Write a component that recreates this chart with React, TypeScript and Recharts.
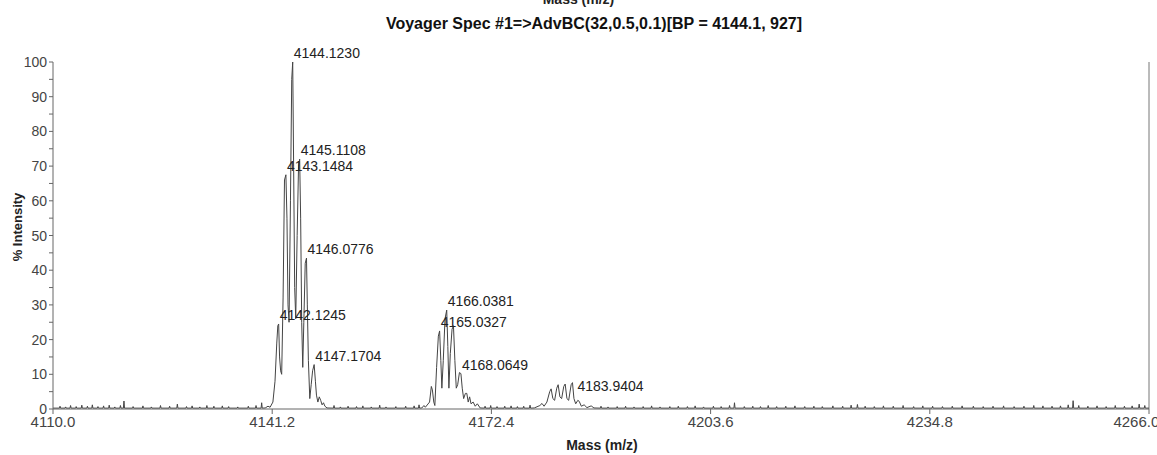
import { LineChart, Line, XAxis, YAxis, ReferenceDot, ReferenceLine } from 'recharts';

// axis ticks
const massTicks = [4110.0, 4141.2, 4172.4, 4203.6, 4234.8, 4266.0];
const intensityTicks = [0, 5, 10, 15, 20, 25, 30, 35, 40, 45, 50, 55, 60, 65, 70, 75, 80, 85, 90, 95, 100];

// isotope cluster around 4144 (mass, % intensity)
const clusterA: [number, number][] = [
  [4140.2, 0.3], [4140.6, 0.8], [4140.9, 0.5], [4141.3, 2], [4141.6, 8], [4141.85, 19],
  [4142.0, 24], [4142.12, 24.5], [4142.25, 15], [4142.4, 11], [4142.55, 10], [4142.75, 32],
  [4142.95, 66], [4143.15, 67.5], [4143.3, 55], [4143.45, 30], [4143.6, 25], [4143.8, 60],
  [4143.98, 95], [4144.12, 100], [4144.25, 70], [4144.4, 35], [4144.55, 26], [4144.75, 50],
  [4144.95, 70], [4145.11, 72], [4145.25, 55], [4145.4, 25], [4145.55, 12], [4145.7, 25],
  [4145.9, 42], [4146.08, 43.5], [4146.2, 30], [4146.35, 14], [4146.55, 3], [4146.75, 7],
  [4146.95, 11], [4147.17, 12.8], [4147.35, 8], [4147.5, 4], [4147.7, 2], [4147.9, 3.5],
  [4148.1, 2.5], [4148.3, 1.2], [4148.5, 1.8], [4148.7, 0.8], [4149.0, 0.3],
];

// cluster around 4166
const clusterB: [number, number][] = [
  [4162.5, 0.3], [4162.8, 1], [4163.0, 0.5], [4163.6, 2], [4163.85, 6.5], [4164.0, 5.5],
  [4164.2, 2], [4164.35, 1], [4164.6, 12], [4164.85, 21], [4165.03, 22.5], [4165.2, 14],
  [4165.35, 6], [4165.55, 14], [4165.8, 26], [4166.04, 28.5], [4166.2, 18], [4166.35, 6],
  [4166.55, 16], [4166.8, 23], [4167.0, 24], [4167.2, 14], [4167.4, 6], [4167.6, 7],
  [4167.85, 10.5], [4168.06, 10.2], [4168.25, 6], [4168.45, 3], [4168.7, 4.5], [4168.9, 4.5],
  [4169.1, 2], [4169.3, 3.5], [4169.5, 1.5], [4169.8, 2], [4170.1, 0.8], [4170.4, 1.5],
  [4170.8, 0.3],
];

// cluster around 4183
const clusterC: [number, number][] = [
  [4178.5, 0.3], [4179.3, 1], [4179.6, 1.6], [4179.9, 0.8], [4180.3, 2], [4180.7, 5],
  [4180.9, 5.8], [4181.15, 3], [4181.4, 2.5], [4181.7, 6], [4181.9, 7], [4182.15, 3.5],
  [4182.4, 3], [4182.7, 6.5], [4182.9, 7.2], [4183.15, 3], [4183.4, 2.5], [4183.75, 7],
  [4183.94, 7.6], [4184.15, 3], [4184.4, 1.5], [4184.7, 2.5], [4184.9, 2.2], [4185.2, 0.8],
  [4185.6, 1.2], [4186.0, 0.4], [4186.6, 0.9], [4187.0, 0.3],
];

// baseline noise spikes
const noiseMass = [
  4111.0, 4111.8, 4112.5, 4113.3, 4114.1, 4114.9, 4115.6, 4116.4, 4117.2, 4118.0, 4118.8, 4119.6,
  4120.1, 4121.4, 4122.8, 4124.0, 4125.3, 4126.6, 4127.7, 4129.0, 4129.8, 4130.9, 4131.9, 4132.9,
  4134.1, 4135.0, 4136.3, 4137.8, 4138.9, 4139.7,
  4150.0, 4150.9, 4152.0, 4153.2, 4154.1, 4155.3, 4156.5, 4157.4, 4158.8, 4160.2, 4161.4, 4162.1,
  4171.5, 4172.3, 4173.2, 4174.3, 4175.2, 4176.1, 4177.0, 4177.9,
  4188.0, 4189.0, 4190.3, 4191.5, 4192.7, 4194.0, 4195.2, 4196.4, 4197.8, 4199.0, 4200.3, 4201.4,
  4202.6, 4204.0, 4205.1, 4206.3, 4207.0, 4208.4, 4209.6, 4210.7, 4211.8, 4213.0, 4214.3, 4215.6,
  4217.0, 4218.3, 4219.5, 4221.0, 4222.4, 4223.6, 4224.5, 4225.6, 4226.9, 4228.2, 4229.6, 4231.0,
  4232.5, 4233.8, 4235.2, 4236.6, 4238.0, 4239.4, 4241.0, 4242.4, 4243.8, 4245.3, 4246.8, 4248.2,
  4249.6, 4250.9, 4252.2, 4253.4, 4254.5, 4255.2, 4256.0, 4257.3, 4258.6, 4259.9, 4261.2, 4262.5,
  4263.6, 4264.6, 4265.4,
];
const noiseInt = [
  0.8, 0.6, 1.0, 0.7, 1.1, 0.8, 1.2, 0.7, 0.9, 1.1, 0.6, 1.0,
  2.3, 0.7, 0.9, 0.6, 1.0, 0.8, 1.4, 0.7, 0.9, 0.6, 1.0, 0.8,
  0.9, 0.7, 0.6, 0.8, 1.0, 1.8,
  1.0, 0.6, 0.8, 0.7, 0.9, 0.6, 1.1, 0.6, 0.7, 0.8, 0.9, 1.2,
  0.8, 1.0, 0.7, 0.8, 0.9, 0.7, 0.8, 1.1,
  0.8, 0.6, 0.7, 0.8, 0.6, 0.7, 0.9, 0.6, 0.7, 0.8, 0.7, 0.9,
  0.6, 0.8, 0.7, 1.0, 1.8, 0.7, 0.8, 0.7, 1.0, 0.7, 0.8, 0.9,
  0.7, 0.8, 0.7, 0.9, 0.8, 1.1, 1.3, 0.8, 0.7, 0.9, 0.8, 1.0,
  0.7, 0.9, 0.8, 0.7, 0.8, 0.9, 0.8, 0.7, 0.8, 0.9, 0.7, 0.8,
  1.0, 0.9, 0.8, 0.9, 1.2, 2.4, 1.0, 0.8, 0.9, 0.7, 1.0, 0.8,
  0.9, 1.4, 1.0,
];
const baseline = 0.25;

// annotated peaks
const peakMass = [4142.1245, 4143.1484, 4144.1230, 4145.1108, 4146.0776, 4147.1704, 4165.0327, 4166.0381, 4168.0649, 4183.9404];
const peakInt = [24.5, 67.5, 100, 72, 43.5, 12.8, 22.5, 28.5, 10.2, 7.6];

const spectrum = (() => {
  const pts: [number, number][] = [[4110, baseline], [4266, baseline]];
  noiseMass.forEach((m, i) => {
    pts.push([m - 0.08, baseline], [m, noiseInt[i]], [m + 0.08, baseline]);
  });
  pts.push(...clusterA, ...clusterB, ...clusterC);
  pts.sort((a, b) => a[0] - b[0]);
  return pts.map(([mass, intensity]) => ({ mass, intensity }));
})();

const font = '"Liberation Sans", Arial, Helvetica, sans-serif';
const labelNudge: Record<number, [number, number]> = { 9: [4, 12] };

const YTick = (props: any) => {
  const { x, y, payload } = props;
  if (payload.value % 10 !== 0) return null;
  return (
    <text x={x} y={y} dy={5} textAnchor="end" fontSize={14} fontFamily={font} fill="#444">
      {payload.value}
    </text>
  );
};

export default function App() {
  return (
    <div style={{ position: 'absolute', left: 0, top: 0, width: 1157, height: 455, fontFamily: font, background: '#fff', overflow: 'hidden' }}>
      <div style={{ position: 'absolute', left: 0, width: 1157, top: -9, textAlign: 'center', fontWeight: 'bold', fontSize: 14, color: '#222' }}>
        Mass (m/z)
      </div>
      <div style={{ position: 'absolute', left: 0, width: 1188, top: 15, textAlign: 'center', fontWeight: 'bold', fontSize: 16, color: '#111' }}>
        Voyager Spec #1=&gt;AdvBC(32,0.5,0.1)[BP = 4144.1, 927]
      </div>
      <div style={{ position: 'absolute', left: 17, top: 227, transform: 'translate(-50%, -50%) rotate(-90deg)', whiteSpace: 'nowrap', fontWeight: 'bold', fontSize: 13, color: '#222' }}>
        % Intensity
      </div>
      <div style={{ position: 'absolute', left: 602, top: 445, transform: 'translate(-50%, -50%)', whiteSpace: 'nowrap', fontWeight: 'bold', fontSize: 14, color: '#222' }}>
        Mass (m/z)
      </div>
      <div style={{ position: 'absolute', left: 0, top: 0 }}>
        <LineChart width={1157} height={455} data={spectrum} margin={{ top: 62, right: 8, bottom: 0, left: 8 }}>
          <XAxis
            dataKey="mass"
            type="number"
            domain={[4110, 4266]}
            ticks={massTicks}
            tickFormatter={(v: number) => v.toFixed(1)}
            height={46}
            tickSize={5}
            tick={{ fontSize: 15, fill: '#444', fontFamily: font }}
            stroke="#666"
            allowDataOverflow
          />
          <YAxis
            type="number"
            domain={[0, 100]}
            ticks={intensityTicks}
            width={45}
            tickSize={4}
            tick={<YTick />}
            stroke="#666"
            interval={0}
          />
          <ReferenceLine x={4266} stroke="#777" />
          <Line
            type="linear"
            dataKey="intensity"
            stroke="#444"
            strokeWidth={1}
            dot={false}
            isAnimationActive={false}
          />
          {peakMass.map((m, i) => (
            <ReferenceDot
              key={m}
              x={m}
              y={peakInt[i]}
              r={0}
              shape={(p: any) => {
                const [dx, dy] = labelNudge[i] || [0, 0];
                return (
                  <text x={p.cx + 1 + dx} y={p.cy - 4 + dy} fontSize={14} fontFamily={font} fill="#222">
                    {m.toFixed(4)}
                  </text>
                );
              }}
            />
          ))}
        </LineChart>
      </div>
    </div>
  );
}
